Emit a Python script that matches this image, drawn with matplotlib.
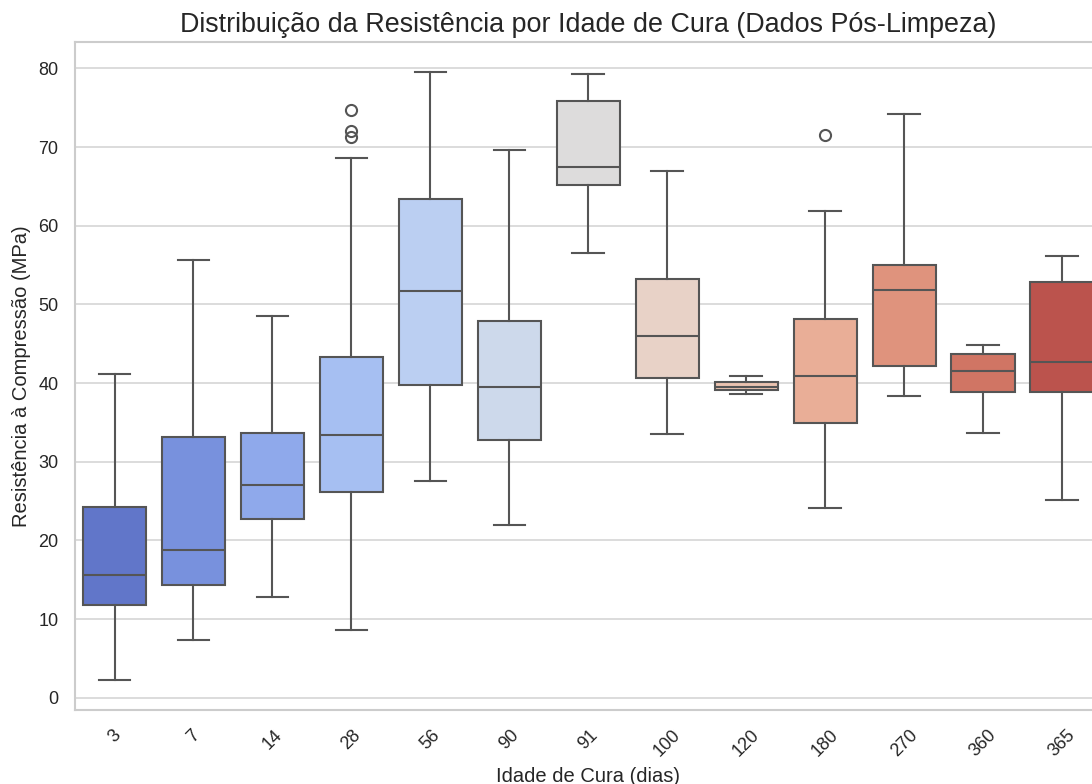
import colorsys
import matplotlib
matplotlib.use("Agg")
import matplotlib.pyplot as plt
import numpy as np

plt.rcParams["font.family"] = ["Liberation Sans", "DejaVu Sans"]

# Estatísticas de cada caixa
idades = ["3", "7", "14", "28", "56", "90", "91", "100", "120", "180", "270", "360", "365"]
bigode_inf = [2.3, 7.4, 12.8, 8.6, 27.5, 21.9, 56.6, 33.5, 38.6, 24.1, 38.4, 33.7, 25.1]
q1 = [11.8, 14.3, 22.7, 26.2, 39.7, 32.8, 65.2, 40.6, 39.1, 34.9, 42.2, 38.9, 38.9]
mediana = [15.6, 18.8, 27.0, 33.4, 51.7, 39.5, 67.5, 46.0, 39.5, 40.9, 51.8, 41.6, 42.7]
q3 = [24.3, 33.2, 33.6, 43.3, 63.4, 47.9, 75.9, 53.2, 40.2, 48.2, 55.0, 43.7, 52.8]
bigode_sup = [41.2, 55.6, 48.5, 68.6, 79.5, 69.6, 79.3, 67.0, 40.9, 61.9, 74.2, 44.8, 56.1]
outliers = [[], [], [], [71.3, 72.0, 74.7], [], [], [], [], [], [71.6], [], [], []]

# paleta coolwarm (como seaborn, com saturação 0.75)
cmap = plt.get_cmap("coolwarm")
cores = []
for b in np.linspace(0, 1, len(idades) + 2)[1:-1]:
    r, g, bl, _ = cmap(b)
    h, l, s = colorsys.rgb_to_hls(r, g, bl)
    cores.append(colorsys.hls_to_rgb(h, l, s * 0.75))

stats = []
for i, lab in enumerate(idades):
    stats.append(dict(label=lab, whislo=bigode_inf[i], q1=q1[i], med=mediana[i],
                      q3=q3[i], whishi=bigode_sup[i], fliers=outliers[i]))

linha = "#555555"
lw = 1.5
fig = plt.figure(figsize=(10.92, 7.84), dpi=100, facecolor="white")
ax = fig.add_axes([0.0687, 0.0944, 0.940, 0.852])

bp = ax.bxp(stats, positions=np.arange(len(idades)), widths=0.8, capwidths=0.4,
            patch_artist=True,
            boxprops=dict(edgecolor=linha, linewidth=lw),
            medianprops=dict(color=linha, linewidth=lw),
            whiskerprops=dict(color=linha, linewidth=lw),
            capprops=dict(color=linha, linewidth=lw),
            flierprops=dict(marker="o", markerfacecolor="none", markeredgecolor=linha,
                            markersize=8, markeredgewidth=lw))
for patch, c in zip(bp["boxes"], cores):
    patch.set_facecolor(c)

ax.set_xlim(-0.5, len(idades) - 0.5)
ax.set_yticks(np.arange(0, 81, 10))
ax.yaxis.grid(True, color="#d5d5d5", linewidth=1.2)
ax.xaxis.grid(False)
ax.set_axisbelow(True)
for sp in ax.spines.values():
    sp.set_color("#cccccc")
    sp.set_linewidth(1.5)
ax.tick_params(axis="both", length=0, labelsize=13, colors="#262626", pad=12)
plt.setp(ax.get_xticklabels(), rotation=45)

ax.set_title("Distribuição da Resistência por Idade de Cura (Dados Pós-Limpeza)",
             fontsize=19.4, color="#262626", pad=7.5)
ax.set_xlabel("Idade de Cura (dias)", fontsize=14.5, color="#262626", labelpad=5)
ax.set_ylabel("Resistência à Compressão (MPa)", fontsize=14.5, color="#262626", labelpad=5)

fig.savefig("out.png", dpi=100, facecolor="white")
